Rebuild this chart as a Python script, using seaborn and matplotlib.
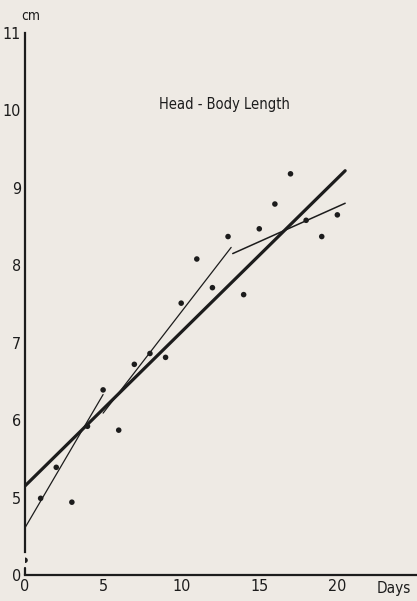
import numpy as np
import pandas as pd
import seaborn as sns
import matplotlib.pyplot as plt
import matplotlib.transforms as mtransforms

# measured growth, head-body length (cm) per day
days = [0, 1, 2, 3, 4, 5, 6, 7, 8, 9, 10, 11, 12, 13, 14, 15, 16, 17, 18, 19, 20]
length_cm = [4.19, 4.99, 5.39, 4.94, 5.92, 6.39, 5.87, 6.72, 6.86, 6.81, 7.51,
             8.08, 7.71, 8.37, 7.62, 8.47, 8.79, 9.18, 8.58, 8.37, 8.65]

# fitted lines: overall (thick) and three phase fits (thin)
fit_names = ['all', 'early', 'middle', 'late']
fit_x0 = [0.0, 0.0, 5.0, 13.3]
fit_x1 = [20.5, 5.0, 13.2, 20.5]
fit_y0 = [5.15, 4.61, 6.09, 8.15]
fit_y1 = [9.22, 6.33, 8.23, 8.80]
fit_widths = [2.3, 0.9, 0.9, 1.1]

y_ticks = [4.0, 5, 6, 7, 8, 9, 10, 11]
y_tick_labels = ['0', '5', '6', '7', '8', '9', '10', '11']
x_ticks = [0, 5, 10, 15, 20]

bg = '#eeeae4'
ink = '#1c1c1c'

sns.set_theme(style='white')
plt.rcParams['font.family'] = ['DejaVu Sans']
plt.rcParams['font.stretch'] = 'condensed'

fig = plt.figure(figsize=(4.17, 6.01), dpi=100, facecolor=bg)
ax = fig.add_axes([0.06, 0.0433, 0.94, 0.902])
ax.set_facecolor(bg)

df = pd.DataFrame({'day': days, 'cm': length_cm})
sns.scatterplot(data=df, x='day', y='cm', ax=ax, s=16, color=ink,
                edgecolor='none', zorder=3)

for i, name in enumerate(fit_names):
    seg = pd.DataFrame({'day': [fit_x0[i], fit_x1[i]], 'cm': [fit_y0[i], fit_y1[i]]})
    sns.lineplot(data=seg, x='day', y='cm', ax=ax, color=ink,
                 linewidth=fit_widths[i], zorder=2)

ax.set_xlim(0, 25.1)
ax.set_ylim(4.0, 11.0)
ax.set_xticks(x_ticks)
ax.set_xticklabels([str(t) for t in x_ticks], fontsize=11.5)
ax.set_yticks(y_ticks)
ax.set_yticklabels(y_tick_labels, fontsize=11.5)
ax.tick_params(axis='both', direction='in', length=4, width=1, color=ink,
               labelcolor=ink, pad=3)
ax.set_xlabel('')
ax.set_ylabel('')

for side in ['top', 'right']:
    ax.spines[side].set_visible(False)
for side in ['left', 'bottom']:
    ax.spines[side].set_color(ink)
    ax.spines[side].set_linewidth(1.6)
# broken y axis: main part plus a short stub at the origin
ax.spines['left'].set_bounds(4.3, 11.0)
ax.plot([0, 0], [4.0, 4.09], color=ink, linewidth=1.6, clip_on=False, zorder=4)

ax.text(12.8, 10.08, 'Head - Body Length', ha='center', va='center',
        fontsize=10.5, color=ink)
fig.text(0.05, 0.974, 'cm', ha='left', va='center', fontsize=10, color=ink)

trans = mtransforms.blended_transform_factory(ax.transData, ax.transAxes)
ax.text(23.6, -0.012, 'Days', transform=trans, ha='center', va='top',
        fontsize=11, color=ink)

fig.savefig('out.png', dpi=100, facecolor=bg)
plt.close()
